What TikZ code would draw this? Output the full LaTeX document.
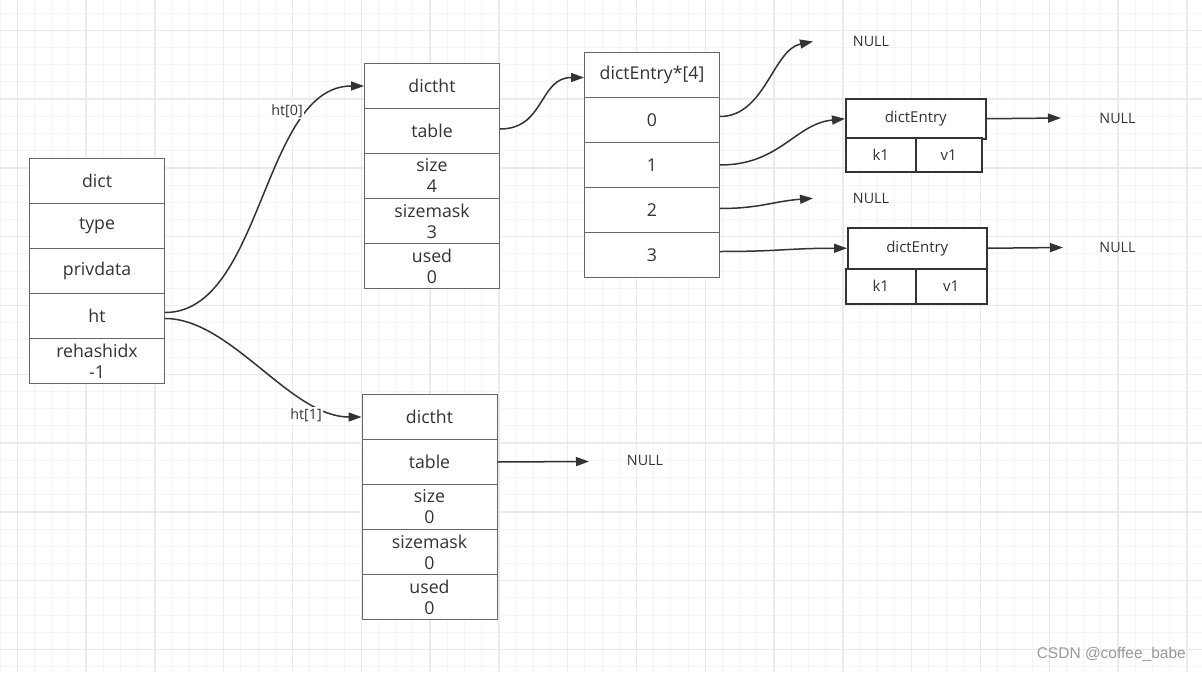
\documentclass[tikz,border=0pt]{standalone}
\usepackage{fontspec}
\setmainfont{Open Sans}
\newfontfamily\wmfont{Liberation Sans}
\usetikzlibrary{arrows.meta}
\definecolor{gridminor}{HTML}{F5F5F5}
\definecolor{gridmajor}{HTML}{EBEBEB}
\definecolor{boxline}{HTML}{666666}
\definecolor{txt}{HTML}{333333}
\definecolor{arr}{HTML}{333333}
\definecolor{wm}{HTML}{999999}
\begin{document}
\begin{tikzpicture}[x=1pt,y=-1pt,
  cell/.style={draw=boxline, line width=1pt, fill=white, inner sep=0pt, minimum width=135pt, minimum height=45pt, anchor=north west, text=txt, align=center, font=\fontsize{17.7}{21}\selectfont},
  ecell/.style={draw=txt, line width=1.5pt, fill=white, inner sep=0pt, anchor=north west, text=txt, font=\fontsize{15}{18}\selectfont},
  nulltxt/.style={text=txt, font=\fontsize{14.3}{16}\selectfont, inner sep=0pt},
  lbl/.style={fill=white, text=txt, font=\fontsize{14.3}{16}\selectfont, inner sep=1pt},
  conn/.style={draw=arr, line width=1.5pt, -{Triangle[length=13pt,width=9pt]}},
  gmin/.style={draw=gridminor, line width=1pt},
  gmaj/.style={draw=gridmajor, line width=1.3pt},
]
\useasboundingbox (0,0) rectangle (1202,672);
\fill[white] (0,0) rectangle (1202,672);
% grid
\foreach \k in {-1,...,69} \draw[gmin] ({17.3+17.2*\k},0) -- ({17.3+17.2*\k},672);
\foreach \k in {-2,...,38} \draw[gmin] (0,{30.3+17.2*\k}) -- (1202,{30.3+17.2*\k});
\foreach \k in {0,...,17} \draw[gmaj] ({17.3+68.8*\k},0) -- ({17.3+68.8*\k},672);
\foreach \k in {0,...,9} \draw[gmaj] (0,{30.3+68.8*\k}) -- (1202,{30.3+68.8*\k});

% dict
\node[cell] (d0) at (29,158) {dict};
\node[cell] (d1) at (29,203) {type};
\node[cell] (d2) at (29,248) {privdata};
\node[cell] (d3) at (29,293) {ht};
\node[cell] (d4) at (29,338) {rehashidx\\-1};

% dictht[0]
\node[cell] (t0h) at (364,63) {dictht};
\node[cell] (t0t) at (364,108) {table};
\node[cell] (t0s) at (364,153) {size\\4};
\node[cell] (t0m) at (364,198) {sizemask\\3};
\node[cell] (t0u) at (364,243) {used\\0};

% dictht[1]
\node[cell] (t1h) at (361.5,394) {dictht};
\node[cell] (t1t) at (361.5,439) {table};
\node[cell] (t1s) at (361.5,484) {size\\0};
\node[cell] (t1m) at (361.5,529) {sizemask\\0};
\node[cell] (t1u) at (361.5,574) {used\\0};

% dictEntry*[4]
\node[cell] (ah) at (584,52) {dictEntry*[4]};
\node[cell] (a0) at (584,97) {0};
\node[cell] (a1) at (584,142) {1};
\node[cell] (a2) at (584,187) {2};
\node[cell] (a3) at (584,232) {3};

% dictEntry 1
\node[ecell, minimum width=140pt, minimum height=40pt] (e1) at (845,98) {dictEntry};
\node[ecell, minimum width=70pt, minimum height=34pt] (e1k) at (845,137) {k1};
\node[ecell, minimum width=66pt, minimum height=34pt] (e1v) at (915,137) {v1};

% dictEntry 2
\node[ecell, minimum width=139pt, minimum height=41pt] (e2) at (847,227) {dictEntry};
\node[ecell, minimum width=70pt, minimum height=35pt] (e2k) at (845,268) {k1};
\node[ecell, minimum width=71pt, minimum height=35pt] (e2v) at (915,268) {v1};

% NULL texts
\node[nulltxt] (nl0) at (871,41) {NULL};
\node[nulltxt] (nl1) at (1117.5,118.5) {NULL};
\node[nulltxt] (nl2) at (871,198) {NULL};
\node[nulltxt] (nl3) at (1117.5,247.5) {NULL};
\node[nulltxt] (nl4) at (645,460.5) {NULL};

\coordinate (c0) at (813,41.5);
\coordinate (c1) at (1061,118);
\coordinate (c2) at (813,198.3);
\coordinate (c3) at (1063,247.5);
\coordinate (c4) at (589,461.5);

% connectors
\draw[conn] ([yshift=3.5pt]d3.east) .. controls +(98,0) and +(-102,0) .. (t0h.west);
\draw[conn] ([yshift=-2.5pt]d3.east) .. controls +(66,0) and +(-71,0) .. (t1h.west);
\draw[conn] ([yshift=2pt]t0t.east) .. controls +(45,0) and +(-45,0) .. ([yshift=-2.5pt]ah.west);
\draw[conn] ([yshift=3.5pt]a0.east) .. controls +(45,0) and +(-40,8) .. (c0);
\draw[conn] (a1.east) .. controls +(60,0) and +(-50,5) .. (e1.west);
\draw[conn] ([yshift=1.5pt]a2.east) .. controls +(40,0) and +(-40,3) .. (c2);
\draw[conn] ([yshift=3.5pt]a3.east) .. controls +(60,0) and +(-60,0) .. (e2.west);
\draw[conn] (e1.east) -- (c1);
\draw[conn] (e2.east) -- (c3);
\draw[conn] (t1t.east) -- (c4);

% labels
\node[lbl] (l0) at (287,111) {ht[0]};
\node[lbl] (l1) at (306,415) {ht[1]};

% watermark
\node[anchor=east, text=wm, font=\wmfont\fontsize{15.5}{17}\selectfont, inner sep=0pt] (wmk) at (1186,654) {CSDN @coffee\_babe};
\end{tikzpicture}
\end{document}
